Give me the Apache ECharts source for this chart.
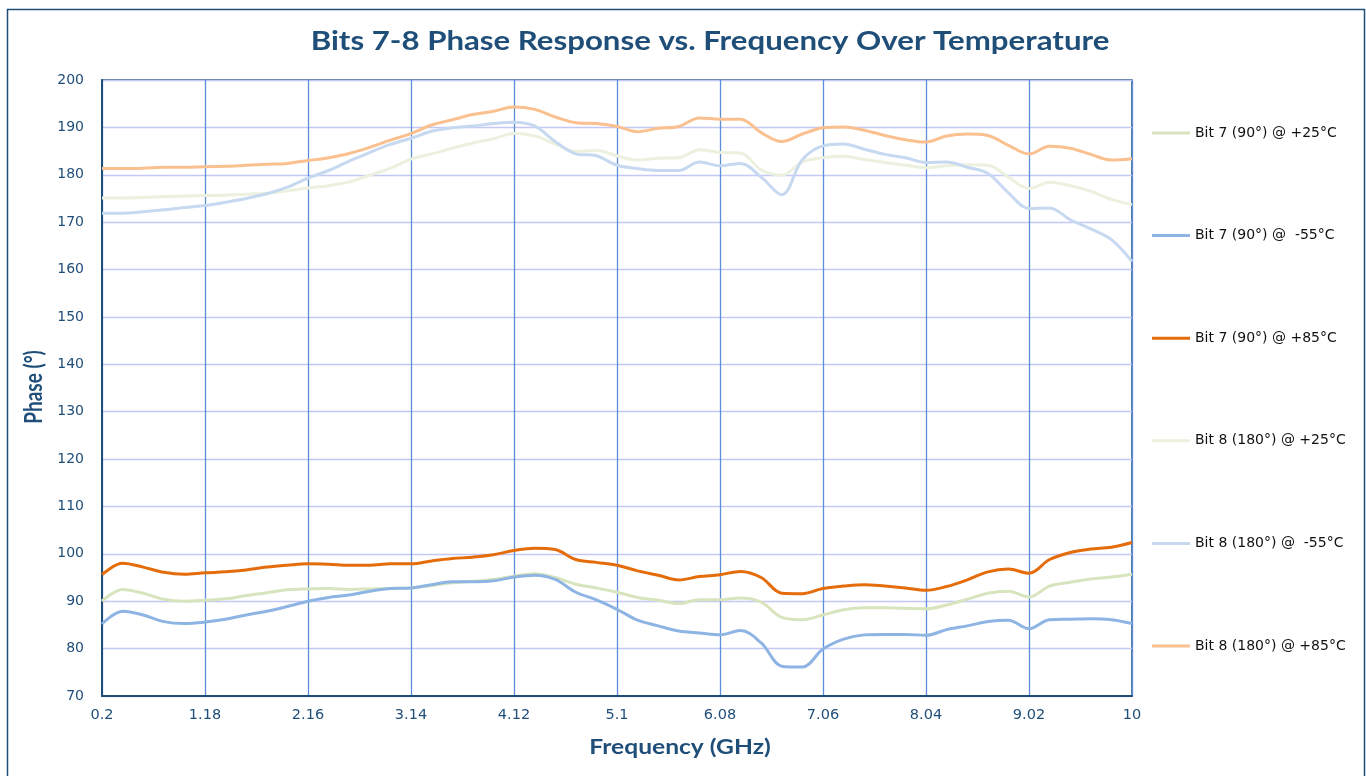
<!DOCTYPE html>
<html>
<head>
<meta charset="utf-8">
<script src="https://cdn.jsdelivr.net/npm/echarts@6/dist/echarts.min.js"></script>
<style>
html,body{margin:0;padding:0;background:#fff;}
#chart{width:1366px;height:776px;}
</style>
</head>
<body>
<div id="chart"></div>
<script>
// Frequency points (GHz)
const freqs = [0.2, 0.396, 0.592, 0.788, 0.984, 1.18, 1.376, 1.572, 1.768, 1.964,
  2.16, 2.356, 2.552, 2.748, 2.944, 3.14, 3.336, 3.532, 3.728, 3.924,
  4.12, 4.316, 4.512, 4.708, 4.904, 5.1, 5.296, 5.492, 5.688, 5.884,
  6.08, 6.276, 6.472, 6.668, 6.864, 7.06, 7.256, 7.452, 7.648, 7.844,
  8.04, 8.236, 8.432, 8.628, 8.824, 9.02, 9.216, 9.412, 9.608, 9.804, 10];

const tickLabels = ['0.2','1.18','2.16','3.14','4.12','5.1','6.08','7.06','8.04','9.02','10'];

const seriesNames = ['Bit 7 (90°) @ +25°C','Bit 7 (90°) @  -55°C','Bit 7 (90°) @ +85°C',
  'Bit 8 (180°) @ +25°C','Bit 8 (180°) @  -55°C','Bit 8 (180°) @ +85°C'];

const bit7_p25 = [90.0, 92.5, 91.7, 90.4, 90.0, 90.2, 90.5, 91.2, 91.8, 92.4,
  92.6, 92.7, 92.5, 92.6, 92.7, 92.8, 93.3, 93.9, 94.2, 94.6,
  95.3, 95.8, 95.0, 93.6, 92.8, 91.9, 90.8, 90.2, 89.5, 90.3,
  90.3, 90.7, 89.8, 86.6, 86.1, 87.1, 88.2, 88.6, 88.6, 88.5,
  88.4, 89.2, 90.4, 91.7, 92.1, 90.9, 93.2, 94.0, 94.7, 95.1, 95.7];

const bit7_m55 = [85.2, 87.9, 87.1, 85.7, 85.3, 85.6, 86.2, 87.1, 87.9, 88.9,
  90.0, 90.8, 91.3, 92.1, 92.7, 92.8, 93.5, 94.1, 94.1, 94.3,
  95.1, 95.5, 94.6, 91.9, 90.3, 88.3, 86.0, 84.8, 83.7, 83.3,
  82.9, 83.8, 81.2, 76.3, 76.1, 79.9, 82.0, 82.9, 83.0, 83.0,
  82.8, 84.0, 84.8, 85.7, 86.0, 84.2, 86.1, 86.2, 86.3, 86.1, 85.3];

const bit7_p85 = [95.6, 98.0, 97.2, 96.1, 95.7, 96.0, 96.2, 96.6, 97.2, 97.6,
  97.9, 97.8, 97.6, 97.6, 97.9, 97.9, 98.5, 99.0, 99.3, 99.8,
  100.7, 101.2, 100.9, 98.8, 98.2, 97.6, 96.4, 95.5, 94.5, 95.2,
  95.6, 96.3, 95.0, 91.7, 91.6, 92.7, 93.2, 93.5, 93.2, 92.8,
  92.3, 93.1, 94.5, 96.2, 96.8, 95.9, 98.8, 100.3, 101.0, 101.4, 102.4];

const bit8_p25 = [175.1, 175.1, 175.2, 175.4, 175.5, 175.6, 175.7, 175.9, 176.1, 176.6,
  177.2, 177.7, 178.5, 179.9, 181.4, 183.3, 184.4, 185.6, 186.7, 187.6,
  188.7, 188.2, 186.5, 184.9, 185.1, 184.0, 183.1, 183.5, 183.6, 185.3,
  184.7, 184.6, 181.0, 179.9, 182.7, 183.6, 183.9, 183.2, 182.6, 182.0,
  181.5, 181.9, 182.1, 182.0, 179.5, 177.1, 178.4, 177.7, 176.5, 174.8, 173.7];

const bit8_m55 = [171.9, 171.9, 172.2, 172.6, 173.1, 173.5, 174.2, 175.0, 176.0, 177.4,
  179.3, 180.9, 182.9, 184.7, 186.4, 187.7, 189.2, 189.9, 190.3, 190.8,
  191.1, 190.3, 187.0, 184.4, 184.0, 182.0, 181.3, 180.9, 180.9, 182.7,
  181.9, 182.4, 179.5, 175.8, 183.2, 186.1, 186.5, 185.4, 184.3, 183.6,
  182.6, 182.7, 181.6, 180.3, 176.2, 172.9, 173.0, 170.5, 168.6, 166.3, 161.7];

const bit8_p85 = [181.3, 181.3, 181.4, 181.6, 181.6, 181.7, 181.8, 182.0, 182.2, 182.4,
  183.0, 183.6, 184.5, 185.8, 187.3, 188.7, 190.5, 191.6, 192.7, 193.4,
  194.3, 193.8, 192.2, 191.0, 190.8, 190.2, 189.1, 189.8, 190.2, 192.0,
  191.7, 191.7, 188.9, 187.0, 188.6, 189.9, 190.1, 189.4, 188.3, 187.4,
  186.9, 188.2, 188.6, 188.3, 186.2, 184.4, 186.0, 185.6, 184.3, 183.1, 183.4];

const seriesValues = [bit7_p25, bit7_m55, bit7_p85, bit8_p25, bit8_m55, bit8_p85];
const seriesColors = ['#D7E4BD', '#8EB4E3', '#E46C0A', '#EBF1DE', '#C6D9F1', '#FAC090'];

const navy = '#1F4E79';
const titleFont = 'Lato, "Open Sans", sans-serif';
const labelFont = '"DejaVu Sans", Verdana, sans-serif';

const chart = echarts.init(document.getElementById('chart'), null, {renderer: 'canvas'});

const option = {
  backgroundColor: '#ffffff',
  animation: false,
  grid: {
    left: 102, right: 234, top: 80, bottom: 80,
    show: true, borderColor: navy, borderWidth: 1.5, backgroundColor: 'transparent'
  },
  legend: {
    orient: 'vertical',
    left: 1147,
    top: 121,
    itemWidth: 38,
    itemHeight: 14,
    itemGap: 88.6,
    icon: 'path://M0 0H38V3H0Z',
    textStyle: {fontFamily: labelFont, fontSize: 14, lineHeight: 14, color: '#111111'},
    data: seriesNames
  },
  graphic: [
    {type: 'rect', left: 5, top: 7, shape: {width: 1357, height: 790},
     style: {fill: 'none', stroke: navy, lineWidth: 1.5}, z: -1, silent: true},
    {type: 'text', x: 710, y: 42, scaleX: 1.2, style: {text: 'Bits 7-8 Phase Response vs. Frequency Over Temperature',
      fontFamily: titleFont, fontWeight: 'bold', fontSize: 26, fill: navy, align: 'center', verticalAlign: 'middle'}},
    {type: 'text', x: 680, y: 748, scaleX: 1.23, style: {text: 'Frequency (GHz)',
      fontFamily: titleFont, fontWeight: 'bold', fontSize: 20, fill: navy, align: 'center', verticalAlign: 'middle'}},
    {type: 'text', x: 34, y: 387, rotation: Math.PI / 2, scaleY: 1.25, style: {text: 'Phase (°)',
      fontFamily: titleFont, fontWeight: 'bold', fontSize: 19, fill: navy, align: 'center', verticalAlign: 'middle'}}
  ],
  xAxis: {
    type: 'category',
    data: freqs,
    boundaryGap: false,
    axisLine: {show: true, lineStyle: {color: navy, width: 2}},
    axisTick: {show: false, interval: 4},
    axisLabel: {
      interval: 4, margin: 12, color: navy, fontFamily: labelFont, fontSize: 14.5,
      formatter: function (v, idx) { return tickLabels[idx / 5]; }
    },
    splitLine: {show: true, interval: 4, lineStyle: {color: '#5B8DD9', width: 1.3}}
  },
  yAxis: {
    type: 'value',
    min: 70, max: 200, interval: 10,
    axisLine: {show: true, lineStyle: {color: navy, width: 2}},
    axisTick: {show: false},
    axisLabel: {margin: 18, color: navy, fontFamily: labelFont, fontSize: 14},
    splitLine: {show: true, lineStyle: {color: '#C4C8F4', width: 1.3}}
  },
  series: seriesNames.map(function (name, i) {
    return {
      name: name,
      type: 'line',
      data: seriesValues[i],
      smooth: 0.35,
      symbol: 'none',
      showSymbol: false,
      lineStyle: {color: seriesColors[i], width: 3},
      itemStyle: {color: seriesColors[i]},
      z: 3
    };
  })
};

chart.setOption(option);
</script>
</body>
</html>
